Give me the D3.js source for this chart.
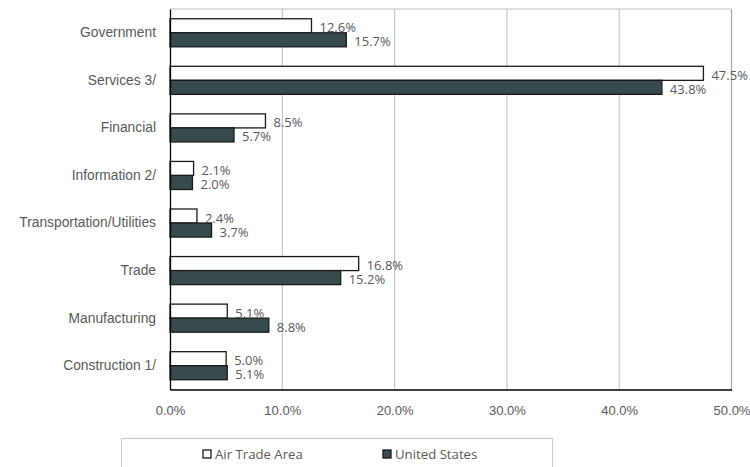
<!DOCTYPE html>
<html>
<head>
<meta charset="utf-8">
<script src="https://cdn.jsdelivr.net/npm/d3@7"></script>
<style>
  html, body { margin: 0; padding: 0; background: #fff; }
  svg { display: block; font-family: "Open Sans", "Noto Sans", sans-serif; }
</style>
</head>
<body>
<svg id="chart" width="750" height="467"></svg>
<script>
// Employment share by industry
const categories = ["Government", "Services 3/", "Financial", "Information 2/",
  "Transportation/Utilities", "Trade", "Manufacturing", "Construction 1/"];
const seriesNames = ["Air Trade Area", "United States"];
const airTradeArea = [12.6, 47.5, 8.5, 2.1, 2.4, 16.8, 5.1, 5.0];
const unitedStates = [15.7, 43.8, 5.7, 2.0, 3.7, 15.2, 8.8, 5.1];
const xTicks = [0, 10, 20, 30, 40, 50];

const seriesValues = [airTradeArea, unitedStates];
const fills = ["#ffffff", "#374a4d"];
const textColor = "#595959";
const labelSize = 13.8;   // category labels
const numberSize = 13;    // tick and value labels
const legendSize = 13.2;

const rows = categories.map((c, i) => ({
  category: c,
  values: seriesNames.map((s, k) => ({ series: s, value: seriesValues[k][i], k }))
}));

const svg = d3.select("#chart");
const plot = { left: 170, right: 731.5, top: 9, bottom: 389.5 };

const x = d3.scaleLinear().domain([0, 50]).range([plot.left, plot.right]);
const y0 = d3.scaleBand().domain(categories).range([plot.top, plot.bottom])
  .paddingInner(0.41).paddingOuter(0.205);
const y1 = d3.scaleBand().domain(seriesNames).range([0, y0.bandwidth()]);

// Vertical gridlines
svg.append("g").selectAll("line").data(xTicks.slice(1)).join("line")
  .attr("x1", d => x(d)).attr("x2", d => x(d))
  .attr("y1", plot.top).attr("y2", plot.bottom)
  .attr("stroke", d => d === 50 ? "#a6a6a6" : "#c8c8c8")
  .attr("stroke-width", 1.2);

// Top border of plot area
svg.append("line")
  .attr("x1", plot.left).attr("x2", plot.right)
  .attr("y1", plot.top).attr("y2", plot.top)
  .attr("stroke", "#bfbfbf").attr("stroke-width", 1.2);

// Bars
const groups = svg.append("g").selectAll("g").data(rows).join("g")
  .attr("transform", d => `translate(0,${y0(d.category)})`);

groups.selectAll("rect").data(d => d.values).join("rect")
  .attr("x", x(0))
  .attr("y", d => y1(d.series))
  .attr("width", d => x(d.value) - x(0))
  .attr("height", y1.bandwidth())
  .attr("fill", d => fills[d.k])
  .attr("stroke", "#1a1a1a")
  .attr("stroke-width", 1.3);

// Value labels
groups.selectAll("text").data(d => d.values).join("text")
  .attr("x", d => x(d.value) + 8)
  .attr("y", d => y1(d.series) + y1.bandwidth() / 2 + 1.5)
  .attr("dominant-baseline", "central")
  .attr("fill", textColor)
  .attr("font-size", numberSize)
  .text(d => d.value.toFixed(1) + "%");

// Axes
const xAxis = svg.append("g")
  .attr("transform", `translate(0,${plot.bottom})`)
  .call(d3.axisBottom(x).tickValues(xTicks).tickSize(0).tickPadding(16)
    .tickFormat(d => d.toFixed(1) + "%"));
xAxis.select(".domain").attr("stroke", "#000").attr("stroke-width", 1.3);
xAxis.selectAll("text").attr("fill", textColor).attr("font-size", numberSize)
  .attr("font-family", null);

const yAxis = svg.append("g")
  .attr("transform", `translate(${plot.left},0)`)
  .call(d3.axisLeft(y0).tickSize(0).tickPadding(14));
yAxis.select(".domain").attr("stroke", "#000").attr("stroke-width", 1.3);
yAxis.selectAll("text").attr("fill", textColor).attr("font-size", labelSize)
  .attr("font-family", null);

// Legend
const legend = svg.append("g");
legend.append("rect")
  .attr("x", 121.5).attr("y", 438.5).attr("width", 431).attr("height", 40)
  .attr("fill", "#fff").attr("stroke", "#c8c8c8").attr("stroke-width", 1);

const legendX = [203, 383];
const items = legend.selectAll("g.item").data(seriesNames).join("g")
  .attr("class", "item")
  .attr("transform", (d, i) => `translate(${legendX[i]},454)`);
items.append("rect")
  .attr("x", 0).attr("y", -4).attr("width", 8).attr("height", 8)
  .attr("fill", (d, i) => fills[i])
  .attr("stroke", "#1a1a1a").attr("stroke-width", 1.3);
items.append("text")
  .attr("x", 12).attr("y", 0)
  .attr("dominant-baseline", "central")
  .attr("fill", textColor).attr("font-size", legendSize)
  .text(d => d);
</script>
</body>
</html>
